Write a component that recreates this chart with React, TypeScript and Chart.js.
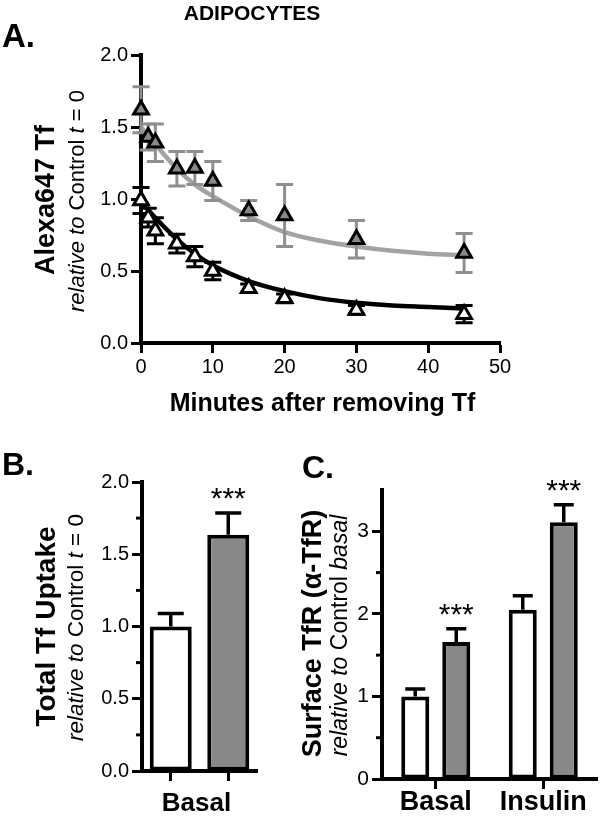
import React, { useEffect, useRef } from 'react';
import { Chart, registerables } from 'chart.js';

Chart.register(...registerables);

const FONT = '"Liberation Sans", Arial, Helvetica, sans-serif';
Chart.defaults.font.family = FONT;
Chart.defaults.color = '#000';

// ---------- Panel A data ----------
const A_TIMES = [0, 1, 2, 5, 7.5, 10, 15, 20, 30, 45];
const A_CONTROL = [0.99, 0.87, 0.78, 0.69, 0.6, 0.5, 0.38, 0.31, 0.23, 0.2];
const A_CONTROL_SEM = [0.09, 0.065, 0.09, 0.065, 0.07, 0.06, 0.03, 0.03, 0.03, 0.06];
const A_TREATED = [1.62, 1.43, 1.39, 1.21, 1.215, 1.125, 0.92, 0.885, 0.72, 0.625];
const A_TREATED_SEM = [0.16, 0.09, 0.13, 0.12, 0.115, 0.135, 0.07, 0.215, 0.13, 0.135];
const A_FIT_TIMES = [0, 2, 5, 7.5, 10, 15, 20, 25, 30, 35, 40, 45];
const A_CONTROL_FIT = [0.98, 0.87, 0.72, 0.62, 0.54, 0.43, 0.36, 0.31, 0.28, 0.26, 0.25, 0.24];
const A_TREATED_FIT = [1.5, 1.38, 1.21, 1.1, 1.02, 0.88, 0.77, 0.71, 0.67, 0.64, 0.62, 0.61];
const A_X_TICKS = [0, 10, 20, 30, 40, 50];
const A_Y_TICKS = [0, 0.5, 1.0, 1.5, 2.0];

// ---------- Panel B data ----------
const B_BARS = ['Control', 'Treated'];
const B_VALUES = [1.0, 1.635];
const B_SEM = [0.09, 0.15];
const B_SIG = ['', '***'];
const B_GROUP_LABEL = 'Basal';

// ---------- Panel C data ----------
const C_GROUPS = ['Basal', 'Insulin'];
const C_CONTROL = [1.0, 2.05];
const C_CONTROL_SEM = [0.09, 0.17];
const C_TREATED = [1.66, 3.11];
const C_TREATED_SEM = [0.16, 0.21];
const C_TREATED_SIG = ['***', '***'];

const GREY_FILL = '#888888';
const GREY_LINE = '#a3a3a3';
const GREY_ERR = '#8f8f8f';

type Part = { text: string; font: string };
type TextItem = { parts: Part[]; x: number; y: number; rot?: boolean; align?: 'left' | 'center' };

const bold = (s: number) => `bold ${s}px ${FONT}`;
const reg = (s: number) => `${s}px ${FONT}`;
const ital = (s: number) => `italic ${s}px ${FONT}`;

function drawRich(ctx: CanvasRenderingContext2D, item: TextItem) {
  ctx.save();
  ctx.translate(item.x, item.y);
  if (item.rot) ctx.rotate(-Math.PI / 2);
  ctx.textBaseline = 'alphabetic';
  ctx.textAlign = 'left';
  ctx.fillStyle = '#000';
  let total = 0;
  const widths = item.parts.map((p) => {
    ctx.font = p.font;
    const w = ctx.measureText(p.text).width;
    total += w;
    return w;
  });
  let cx = item.align === 'left' ? 0 : -total / 2;
  item.parts.forEach((p, i) => {
    ctx.font = p.font;
    ctx.fillText(p.text, cx, 0);
    cx += widths[i];
  });
  ctx.restore();
}

const textPlugin = (getItems: (chart: any) => TextItem[]) => ({
  id: 'richTexts',
  afterDraw(chart: any) {
    const ctx = chart.ctx as CanvasRenderingContext2D;
    getItems(chart).forEach((it) => drawRich(ctx, it));
  },
});

function drawErrors(chart: any, index: number) {
  const ds = chart.data.datasets[index];
  if (!ds.errors) return;
  const meta = chart.getDatasetMeta(index);
  const yScale = chart.scales[meta.yAxisID];
  const ctx = chart.ctx as CanvasRenderingContext2D;
  ctx.save();
  ctx.strokeStyle = ds.errorColor || '#000';
  ctx.lineWidth = ds.errorWidth || 3;
  ctx.lineCap = 'butt';
  meta.data.forEach((el: any, j: number) => {
    const raw = ds.data[j];
    const v = typeof raw === 'number' ? raw : raw.y;
    const e = ds.errors[j];
    const yTop = yScale.getPixelForValue(v + e);
    const yBot = ds.errorUpOnly ? yScale.getPixelForValue(v) : yScale.getPixelForValue(v - e);
    const x = el.x;
    const half = (ds.capWidth || 16) / 2;
    ctx.beginPath();
    ctx.moveTo(x, yTop);
    ctx.lineTo(x, yBot);
    ctx.moveTo(x - half, yTop);
    ctx.lineTo(x + half, yTop);
    if (!ds.errorUpOnly) {
      ctx.moveTo(x - half, yBot);
      ctx.lineTo(x + half, yBot);
    }
    ctx.stroke();
    if (ds.marks && ds.marks[j]) {
      ctx.fillStyle = '#000';
      ctx.font = reg(30);
      ctx.textAlign = 'center';
      ctx.textBaseline = 'alphabetic';
      ctx.fillText(ds.marks[j], x, yTop - 5);
    }
  });
  ctx.restore();
}

const errorPlugin = {
  id: 'errorBarsPlugin',
  beforeDatasetDraw(chart: any, args: any) {
    const ds = chart.data.datasets[args.index];
    if (ds.errors && ds.errorLayer === 'before') drawErrors(chart, args.index);
  },
  afterDatasetDraw(chart: any, args: any) {
    const ds = chart.data.datasets[args.index];
    if (ds.errors && ds.errorLayer !== 'before') drawErrors(chart, args.index);
  },
};

const minorTickPlugin = (isMajor: (v: number) => boolean, len: number) => ({
  id: 'minorTicks',
  afterDraw(chart: any) {
    const s = chart.scales.y;
    const ctx = chart.ctx as CanvasRenderingContext2D;
    const x0 = chart.chartArea.left;
    ctx.save();
    ctx.strokeStyle = '#000';
    ctx.lineWidth = 3;
    s.ticks.forEach((t: any) => {
      if (isMajor(t.value) || t.value >= s.max - 1e-9) return;
      const y = s.getPixelForValue(t.value);
      ctx.beginPath();
      ctx.moveTo(x0, y);
      ctx.lineTo(x0 - len, y);
      ctx.stroke();
    });
    ctx.restore();
  },
});

const axisBase = {
  border: { display: true, width: 4, color: '#000' },
};

function ChartCanvas({ left, top, width, height, makeConfig }: any) {
  const ref = useRef<HTMLCanvasElement | null>(null);
  useEffect(() => {
    if (!ref.current) return;
    const chart = new Chart(ref.current, makeConfig());
    return () => chart.destroy();
  }, []);
  return (
    <canvas
      ref={ref}
      width={width}
      height={height}
      style={{ position: 'absolute', left, top, width, height }}
    />
  );
}

function configA(): any {
  const pts = (ys: number[]) => A_TIMES.map((t, i) => ({ x: t, y: ys[i] }));
  const fit = (ys: number[]) => A_FIT_TIMES.map((t, i) => ({ x: t, y: ys[i] }));
  return {
    type: 'scatter',
    data: {
      datasets: [
        {
          label: 'Treated',
          data: pts(A_TREATED),
          pointStyle: 'triangle',
          pointRadius: 8.5,
          pointBorderWidth: 3,
          backgroundColor: GREY_FILL,
          borderColor: '#000',
          errors: A_TREATED_SEM,
          errorColor: GREY_ERR,
          errorWidth: 3,
          capWidth: 17,
          errorLayer: 'before',
          clip: false,
          order: 1,
        },
        {
          label: 'Control',
          data: pts(A_CONTROL),
          pointStyle: 'triangle',
          pointRadius: 8.5,
          pointBorderWidth: 3,
          backgroundColor: '#ffffff',
          borderColor: '#000',
          errors: A_CONTROL_SEM,
          errorColor: '#000',
          errorWidth: 3,
          capWidth: 17,
          errorLayer: 'before',
          clip: false,
          order: 2,
        },
        {
          label: 'Treated fit',
          data: fit(A_TREATED_FIT),
          showLine: true,
          pointRadius: 0,
          borderColor: GREY_LINE,
          borderWidth: 4.5,
          cubicInterpolationMode: 'monotone',
          clip: false,
          order: 3,
        },
        {
          label: 'Control fit',
          data: fit(A_CONTROL_FIT),
          showLine: true,
          pointRadius: 0,
          borderColor: '#000',
          borderWidth: 4.5,
          cubicInterpolationMode: 'monotone',
          clip: false,
          order: 4,
        },
      ],
    },
    options: {
      responsive: false,
      animation: false,
      devicePixelRatio: 1,
      events: [],
      layout: { autoPadding: false, padding: { left: 0, top: 55, right: 100, bottom: 0 } },
      plugins: { legend: { display: false }, tooltip: { enabled: false } },
      scales: {
        x: {
          type: 'linear',
          min: 0,
          max: 50,
          ...axisBase,
          grid: { display: true, drawOnChartArea: false, drawTicks: true, tickLength: 10, tickWidth: 3, tickColor: '#000' },
          afterBuildTicks: (s: any) => { s.ticks = A_X_TICKS.map((v) => ({ value: v })); },
          ticks: { font: { size: 20 }, color: '#000', padding: 2, maxRotation: 0, autoSkip: false, callback: (v: any) => String(v) },
          afterFit: (s: any) => { s.height = 77; },
        },
        y: {
          type: 'linear',
          min: 0,
          max: 2,
          ...axisBase,
          grid: { display: true, drawOnChartArea: false, drawTicks: true, tickLength: 10, tickWidth: 3, tickColor: '#000' },
          afterBuildTicks: (s: any) => { s.ticks = A_Y_TICKS.map((v) => ({ value: v })); },
          ticks: { font: { size: 20 }, color: '#000', padding: 3, callback: (v: any) => Number(v).toFixed(1) },
          afterFit: (s: any) => { s.width = 141; },
        },
      },
    },
    plugins: [
      errorPlugin,
      textPlugin((chart: any) => {
        const ca = chart.chartArea;
        const cy = (ca.top + ca.bottom) / 2;
        return [
          { parts: [{ text: 'ADIPOCYTES', font: bold(21) }], x: 252, y: 20 },
          { parts: [{ text: 'A.', font: bold(33) }], x: 2, y: 47, align: 'left' },
          { parts: [{ text: 'Alexa647 Tf', font: bold(27) }], x: 54, y: cy + 1, rot: true },
          {
            parts: [
              { text: 'relative to ', font: ital(22) },
              { text: 'Control ', font: reg(22) },
              { text: 't', font: ital(22) },
              { text: ' = 0', font: reg(22) },
            ],
            x: 84,
            y: cy + 2,
            rot: true,
          },
          { parts: [{ text: 'Minutes after removing Tf', font: bold(25) }], x: (ca.left + ca.right) / 2 + 2, y: 411 },
        ];
      }),
    ],
  };
}

function configB(): any {
  return {
    type: 'bar',
    data: {
      labels: B_BARS,
      datasets: [
        {
          label: B_GROUP_LABEL,
          data: B_VALUES,
          backgroundColor: ['#ffffff', GREY_FILL],
          borderColor: '#000',
          borderWidth: 4,
          borderSkipped: false,
          barPercentage: 0.73,
          categoryPercentage: 1.0,
          errors: B_SEM,
          errorUpOnly: true,
          errorColor: '#000',
          errorWidth: 3.5,
          capWidth: 26,
          marks: B_SIG,
        },
      ],
    },
    options: {
      responsive: false,
      animation: false,
      devicePixelRatio: 1,
      events: [],
      layout: { autoPadding: false, padding: { left: 0, top: 62, right: 43, bottom: 0 } },
      plugins: { legend: { display: false }, tooltip: { enabled: false } },
      scales: {
        x: {
          type: 'category',
          ...axisBase,
          grid: { display: true, offset: false, drawOnChartArea: false, drawTicks: true, tickLength: 10, tickWidth: 3, tickColor: '#000' },
          ticks: { display: false },
          afterFit: (s: any) => { s.height = 45; },
        },
        y: {
          type: 'linear',
          min: 0,
          max: 2,
          ...axisBase,
          grid: {
            display: true,
            drawOnChartArea: false,
            drawTicks: true,
            tickLength: 10,
            tickWidth: 3,
            tickColor: (c: any) => (c.tick && Math.abs(c.tick.value * 2 - Math.round(c.tick.value * 2)) < 1e-6 ? '#000' : 'rgba(0,0,0,0)'),
          },
          ticks: {
            stepSize: 0.25,
            font: { size: 20 },
            color: '#000',
            padding: 3,
            callback: (v: any) => (Math.abs(v * 2 - Math.round(v * 2)) < 1e-6 ? Number(v).toFixed(1) : ''),
          },
          afterFit: (s: any) => { s.width = 142; },
        },
      },
    },
    plugins: [
      errorPlugin,
      minorTickPlugin((v) => Math.abs(v * 2 - Math.round(v * 2)) < 1e-6, 6),
      textPlugin((chart: any) => {
        const ca = chart.chartArea;
        const cy = (ca.top + ca.bottom) / 2;
        return [
          { parts: [{ text: 'B.', font: bold(32) }], x: 2, y: 55, align: 'left' },
          { parts: [{ text: 'Total Tf Uptake', font: bold(28) }], x: 55, y: cy, rot: true },
          {
            parts: [
              { text: 'relative to ', font: ital(22.5) },
              { text: 'Control ', font: reg(22.5) },
              { text: 't', font: ital(22.5) },
              { text: ' = 0', font: reg(22.5) },
            ],
            x: 83,
            y: cy + 1,
            rot: true,
          },
          { parts: [{ text: B_GROUP_LABEL, font: bold(26) }], x: (ca.left + ca.right) / 2 - 3, y: 391 },
        ];
      }),
    ],
  };
}

function configC(): any {
  const isInt = (v: number) => Math.abs(v - Math.round(v)) < 1e-6;
  return {
    type: 'bar',
    data: {
      labels: C_GROUPS,
      datasets: [
        {
          label: 'Control',
          data: C_CONTROL,
          backgroundColor: '#ffffff',
          borderColor: '#000',
          borderWidth: 4,
          borderSkipped: false,
          barPercentage: 0.683,
          categoryPercentage: 0.763,
          errors: C_CONTROL_SEM,
          errorUpOnly: true,
          errorColor: '#000',
          errorWidth: 3.5,
          capWidth: 20,
        },
        {
          label: 'Treated',
          data: C_TREATED,
          backgroundColor: GREY_FILL,
          borderColor: '#000',
          borderWidth: 4,
          borderSkipped: false,
          barPercentage: 0.683,
          categoryPercentage: 0.763,
          errors: C_TREATED_SEM,
          errorUpOnly: true,
          errorColor: '#000',
          errorWidth: 3.5,
          capWidth: 20,
          marks: C_TREATED_SIG,
        },
      ],
    },
    options: {
      responsive: false,
      animation: false,
      devicePixelRatio: 1,
      events: [],
      layout: { autoPadding: false, padding: { left: 0, top: 70, right: 3, bottom: 0 } },
      plugins: { legend: { display: false }, tooltip: { enabled: false } },
      scales: {
        x: {
          type: 'category',
          ...axisBase,
          grid: { display: true, offset: false, drawOnChartArea: false, drawTicks: true, tickLength: 10, tickWidth: 3, tickColor: '#000' },
          ticks: { display: false },
          afterFit: (s: any) => { s.height = 37; },
        },
        y: {
          type: 'linear',
          min: 0,
          max: 3.5,
          ...axisBase,
          grid: {
            display: true,
            drawOnChartArea: false,
            drawTicks: true,
            tickLength: 10,
            tickWidth: 3,
            tickColor: (c: any) => (c.tick && isInt(c.tick.value) ? '#000' : 'rgba(0,0,0,0)'),
          },
          ticks: {
            stepSize: 0.5,
            font: { size: 21 },
            color: '#000',
            padding: 3,
            callback: (v: any) => (isInt(v) ? String(Math.round(v)) : ''),
          },
          afterFit: (s: any) => { s.width = 82; },
        },
      },
    },
    plugins: [
      errorPlugin,
      minorTickPlugin(isInt, 6),
      textPlugin((chart: any) => {
        const ca = chart.chartArea;
        const cy = (ca.top + ca.bottom) / 2;
        const xs = chart.scales.x;
        return [
          { parts: [{ text: 'C.', font: bold(32) }], x: 2, y: 58, align: 'left' },
          { parts: [{ text: 'Surface TfR (α-TfR)', font: bold(27) }], x: 21, y: cy - 1, rot: true },
          {
            parts: [
              { text: 'relative to ', font: ital(23) },
              { text: 'Control ', font: reg(23) },
              { text: 'basal', font: ital(23) },
            ],
            x: 47,
            y: cy + 1,
            rot: true,
          },
          ...C_GROUPS.map((g, i) => ({
            parts: [{ text: g, font: bold(27) }],
            x: xs.getPixelForTick(i),
            y: 390,
          })),
        ];
      }),
    ],
  };
}

export default function App() {
  return (
    <div style={{ position: 'absolute', left: 0, top: 0, width: 600, height: 816, background: '#fff', overflow: 'hidden' }}>
      <ChartCanvas left={0} top={0} width={600} height={420} makeConfig={configA} />
      <ChartCanvas left={0} top={420} width={300} height={396} makeConfig={configB} />
      <ChartCanvas left={300} top={420} width={300} height={396} makeConfig={configC} />
    </div>
  );
}
